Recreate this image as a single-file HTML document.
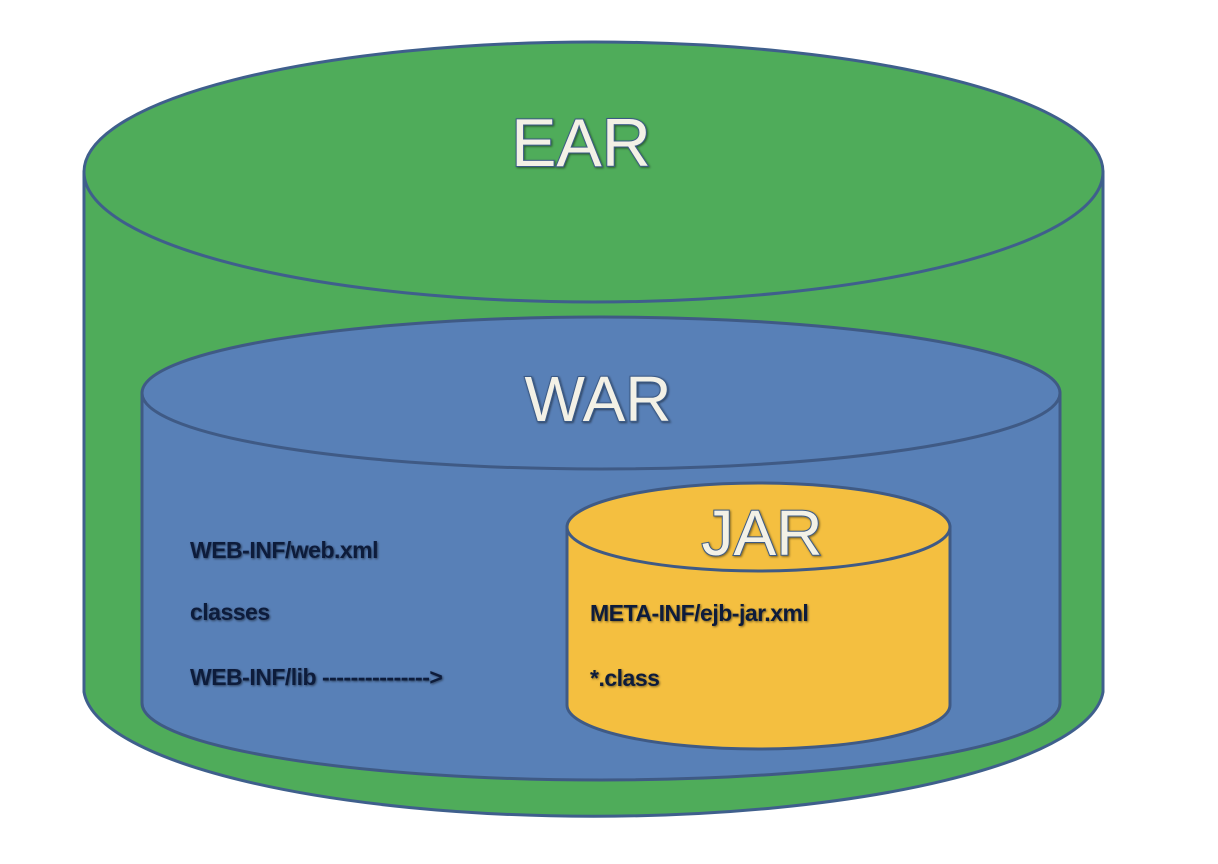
<!DOCTYPE html>
<html><head><meta charset="utf-8"><style>
html,body{margin:0;padding:0;background:#fff;}
svg{display:block}
.big{font-family:"Liberation Sans",sans-serif;fill:#f3f1e6;stroke:#3b5a86;stroke-width:2;paint-order:stroke;text-anchor:middle}
.sm{font-family:"Liberation Sans",sans-serif;font-weight:bold;font-size:23px;fill:#0d1a3a;letter-spacing:-0.5px}
</style></head><body>
<svg width="1218" height="864" viewBox="0 0 1218 864">
<defs><filter id="sh"><feDropShadow dx="1" dy="1" stdDeviation="1" flood-color="#000" flood-opacity="0.5"/></filter></defs>
<!-- EAR -->
<path d="M84 172 L84 692 A510 130 0 0 0 1103 692 L1103 172 Z" fill="#4fac5a" stroke="#3f5f8c" stroke-width="3"/>
<ellipse cx="593.5" cy="172" rx="509.5" ry="130" fill="#4fac5a" stroke="#3f5f8c" stroke-width="3"/>
<!-- WAR -->
<path d="M142 393 L142 703 A459 77 0 0 0 1060 703 L1060 393 Z" fill="#5880b7" stroke="#3f5a85" stroke-width="3"/>
<ellipse cx="601" cy="393" rx="459" ry="76" fill="#5880b7" stroke="#3f5a85" stroke-width="3"/>
<!-- JAR -->
<path d="M567 527 L567 705 A191.5 44 0 0 0 950 705 L950 527 Z" fill="#f4bf40" stroke="#3f5a85" stroke-width="3"/>
<ellipse cx="758.5" cy="527" rx="191.5" ry="44" fill="#f4bf40" stroke="#3f5a85" stroke-width="3"/>
<text class="big" x="581" y="166" font-size="68" filter="url(#sh)">EAR</text>
<text class="big" x="598" y="421" font-size="64" filter="url(#sh)">WAR</text>
<text class="big" x="762" y="555" font-size="64" filter="url(#sh)">JAR</text>
<g filter="url(#sh)">
<text class="sm" x="190" y="558">WEB-INF/web.xml</text>
<text class="sm" x="190" y="620">classes</text>
<text class="sm" x="190" y="685">WEB-INF/lib ---------------&gt;</text>
<text class="sm" x="590" y="621">META-INF/ejb-jar.xml</text>
<text class="sm" x="590" y="686">*.class</text>
</g>
</svg>
</body></html>
